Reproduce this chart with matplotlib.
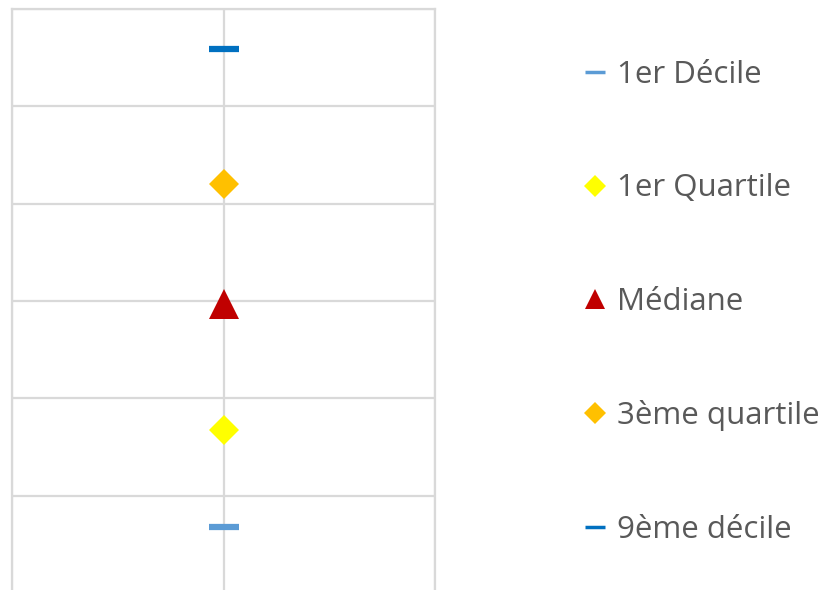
import matplotlib.pyplot as plt
from matplotlib.lines import Line2D

# series (drawn in legend order)
labels = ["1er Décile", "1er Quartile", "Médiane", "3ème quartile", "9ème décile"]
values = [0.68, 1.67, 2.97, 4.20, 5.59]
colors = ["#5B9BD5", "#FFFF00", "#C00000", "#FFC000", "#0070C0"]
markers = ["_", "D", "^", "D", "_"]
x_pos = 1

fig = plt.figure(figsize=(8.26, 5.9), dpi=100)
ax = fig.add_axes([12 / 826, 0, (435 - 12) / 826, (590 - 9) / 590])

big = {"_": dict(ms=22, mew=4.5), "D": dict(ms=15, mew=0), "^": dict(ms=21, mew=0)}
small = {"_": dict(ms=15, mew=2.5), "D": dict(ms=11, mew=0), "^": dict(ms=15, mew=0)}

handles = []
for lab, v, c, m in zip(labels, values, colors, markers):
    ax.plot([x_pos], [v], linestyle="none", marker=m, color=c, zorder=3, **big[m])
    handles.append(Line2D([], [], linestyle="none", marker=m, color=c, **small[m]))

ax.set_xlim(0, 2)
ax.set_ylim(0.03, 6)
ax.set_xticks([0, 1, 2])
ax.set_yticks([1, 2, 3, 4, 5, 6])
ax.grid(True, color="#D9D9D9", linewidth=1.6)
ax.tick_params(length=0, labelleft=False, labelbottom=False)
for s in ["left", "right", "top"]:
    ax.spines[s].set_color("#D9D9D9")
    ax.spines[s].set_linewidth(1.6)
ax.spines["bottom"].set_visible(False)
ax.set_axisbelow(True)

fig.legend(handles, labels, loc="upper left", bbox_to_anchor=(584 / 826, 1 - 60 / 590),
           frameon=False, prop={"family": "Open Sans", "size": 22.5},
           labelcolor="#595959", handlelength=0.7, handletextpad=0.36,
           labelspacing=2.67, borderpad=0, borderaxespad=0)

fig.savefig("out.png", dpi=100)
